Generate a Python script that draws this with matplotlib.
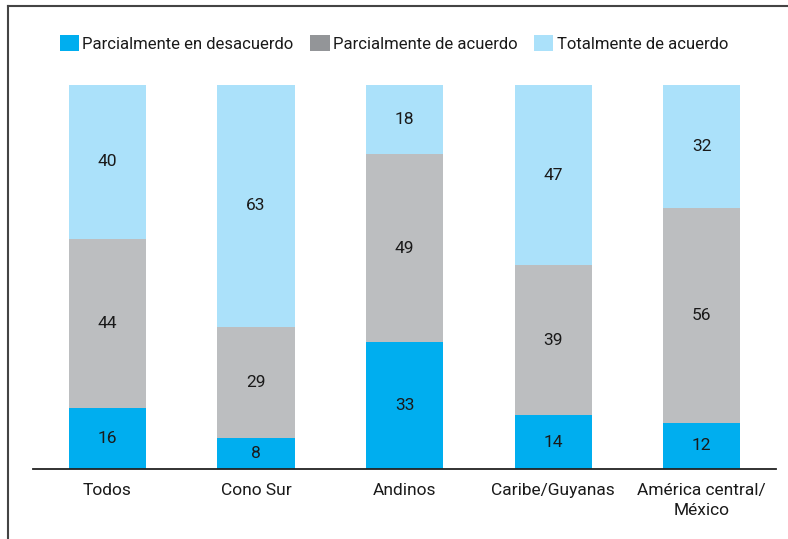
import matplotlib.pyplot as plt
from matplotlib.patches import Patch
from matplotlib.lines import Line2D

plt.rcParams['font.family'] = ['Liberation Sans Narrow', 'Roboto', 'DejaVu Sans']

categories = ['Todos', 'Cono Sur', 'Andinos', 'Caribe/Guyanas', 'América central/\nMéxico']
series_names = ['Parcialmente en desacuerdo', 'Parcialmente de acuerdo', 'Totalmente de acuerdo']
desacuerdo = [16, 8, 33, 14, 12]
parcial_acuerdo = [44, 29, 49, 39, 56]
total_acuerdo = [40, 63, 18, 47, 32]

bar_colors = ['#00aeef', '#bcbec0', '#abe1fa']
legend_colors = ['#00aeef', '#939598', '#abe1fa']

fig = plt.figure(figsize=(7.88, 5.39), dpi=100)
ax = fig.add_axes([0.0419, 0.1299, 0.943, 0.7124])

x = range(len(categories))
bottom = [0] * len(categories)
for vals, col in zip([desacuerdo, parcial_acuerdo, total_acuerdo], bar_colors):
    bars = ax.bar(x, vals, width=0.52, bottom=bottom, color=col, linewidth=0)
    for b, v, b0 in zip(bars, vals, bottom):
        ax.text(b.get_x() + b.get_width() / 2, b0 + v / 2, str(v),
                ha='center', va='center', fontsize=12.5, color='#1a1a1a')
    bottom = [a + v for a, v in zip(bottom, vals)]

ax.set_xlim(-0.5, 4.5)
ax.set_ylim(0, 100)
ax.set_xticks(list(x))
ax.set_xticklabels(categories, fontsize=12.5, color='#1a1a1a', linespacing=1.45)
ax.tick_params(axis='x', length=0, pad=10)
ax.set_yticks([])
for s in ['top', 'right', 'left']:
    ax.spines[s].set_visible(False)
ax.spines['bottom'].set_color('#222222')
ax.spines['bottom'].set_linewidth(1.3)

handles = [Patch(facecolor=c, edgecolor='none') for c in legend_colors]
fig.legend(handles, series_names, loc='center', bbox_to_anchor=(0.5, 0.92),
           ncol=3, frameon=False, fontsize=12, handlelength=1.15, handleheight=1.15,
           handletextpad=0.2, columnspacing=1.0, labelcolor='#1a1a1a')

# frame lines (top and left)
fig.add_artist(Line2D([8 / 788, 1.0], [1 - 6 / 539, 1 - 6 / 539], color='#444444', lw=1.5,
                      transform=fig.transFigure))
fig.add_artist(Line2D([8 / 788, 8 / 788], [0, 1 - 6 / 539], color='#444444', lw=1.5,
                      transform=fig.transFigure))

fig.savefig('out.png', dpi=100)
